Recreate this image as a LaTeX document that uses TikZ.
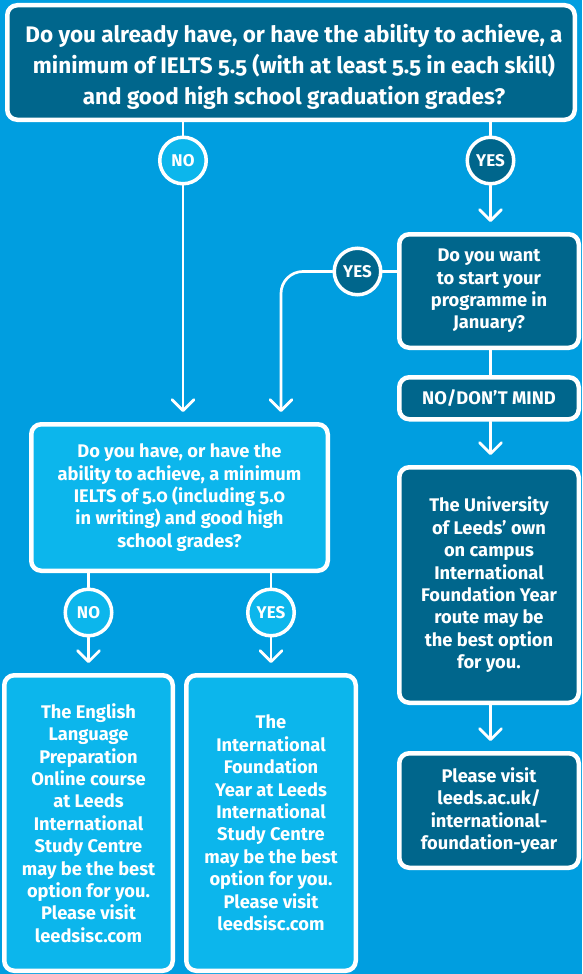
\documentclass[tikz,border=0pt]{standalone}
\usepackage{fontspec}
\setmainfont{Fira Sans}[Numbers=OldStyle]
\usetikzlibrary{arrows.meta}
\definecolor{bg}{RGB}{0,158,224}
\definecolor{dk}{RGB}{0,102,140}
\definecolor{lt}{RGB}{12,182,236}
\begin{document}
\begin{tikzpicture}[x=1pt,y=-1pt,
  box/.style={draw=white, line width=4.5pt, rounded corners=10pt, text=white,
    font=\bfseries\fontsize{18.3}{22.4}\selectfont, align=center, inner sep=0pt},
  dkbox/.style={box, fill=dk},
  ltbox/.style={box, fill=lt},
  toptext/.style={text=white, align=center, inner sep=0pt,
    font=\bfseries\fontsize{22.5}{31}\selectfont},
  circ/.style={circle, draw=white, line width=3.5pt, minimum size=46.5pt, inner sep=0pt,
    text=white, font=\bfseries\fontsize{17}{17}\selectfont},
  dkcirc/.style={circ, fill=dk},
  ltcirc/.style={circ, fill=lt},
  conn/.style={draw=white, line width=2.7pt, line cap=round, line join=round},
  arr/.style={conn, -{Straight Barb[length=11pt,width=22pt,round]}, shorten >=10pt}
]
\fill[bg] (0,0) rectangle (582,974);
\useasboundingbox (0,0) rectangle (582,974);

% boxes
\node[dkbox, minimum width=567.5pt, minimum height=114.5pt] (q1) at (291,62.5) {};
\node[toptext] (q1t) at (294,67)
  {Do you already have, or have the ability to achieve, a\\minimum of IELTS 5.5 (with at least 5.5 in each skill)\\and good high school graduation grades?};
\node[dkbox, minimum width=179.5pt, minimum height=113.5pt] (jan) at (489,291)
  {Do you want\\to start your\\programme in\\January?};
\node[dkbox, minimum width=179.5pt, minimum height=42pt] (nodm) at (489,398.25)
  {NO/DON’T MIND};
\node[dkbox, minimum width=179.5pt, minimum height=235.5pt] (univ) at (489,585)
  {The University\\of Leeds’ own\\on campus\\International\\Foundation Year\\route may be\\the best option\\for you.};
\node[dkbox, minimum width=179.5pt, minimum height=114.5pt] (visit) at (489,810.5)
  {Please visit\\leeds.ac.uk/\\international-\\foundation-year};
\node[ltbox, minimum width=296.5pt, minimum height=146.5pt] (q2) at (179.5,497.5)
  {Do you have, or have the\\ability to achieve, a minimum\\IELTS of 5.0 (including 5.0\\in writing) and good high\\school grades?};
\node[ltbox, minimum width=168.5pt, minimum height=295.5pt] (elp) at (88.5,823)
  {The English\\Language\\Preparation\\Online course\\at Leeds\\International\\Study Centre\\may be the best\\option for you.\\Please visit\\leedsisc.com};
\node[ltbox, minimum width=169.5pt, minimum height=295.5pt] (ify) at (271,823)
  {The\\International\\Foundation\\Year at Leeds\\International\\Study Centre\\may be the best\\option for you.\\Please visit\\leedsisc.com};

% circles
\node[ltcirc] (no1) at (183,160.5) {NO};
\node[dkcirc] (yes1) at (490.5,160.5) {YES};
\node[dkcirc] (yes2) at (357.5,271.5) {YES};
\node[ltcirc] (no2) at (88.5,612.5) {NO};
\node[ltcirc] (yes3) at (271,612.5) {YES};
\coordinate (yc) at (281,271.5);

% connectors
\draw[conn] (no1 |- q1.south) -- (no1.north);
\draw[arr] (no1.south) -- (no1 |- q2.north);
\draw[conn] (yes1 |- q1.south) -- (yes1.north);
\draw[arr] (yes1.south) -- (yes1 |- jan.north);
\draw[conn] (jan.west |- yes2) -- (yes2.east);
\draw[arr, rounded corners=22pt] (yes2.west) -- (yc) -- (yc |- q2.north);
\draw[conn] (yes1 |- jan.south) -- (yes1 |- nodm.north);
\draw[arr] (yes1 |- nodm.south) -- (yes1 |- univ.north);
\draw[arr] (yes1 |- univ.south) -- (yes1 |- visit.north);
\draw[conn] (no2 |- q2.south) -- (no2.north);
\draw[arr] (no2.south) -- (no2 |- elp.north);
\draw[conn] (yes3 |- q2.south) -- (yes3.north);
\draw[arr] (yes3.south) -- (yes3 |- ify.north);
\end{tikzpicture}
\end{document}
